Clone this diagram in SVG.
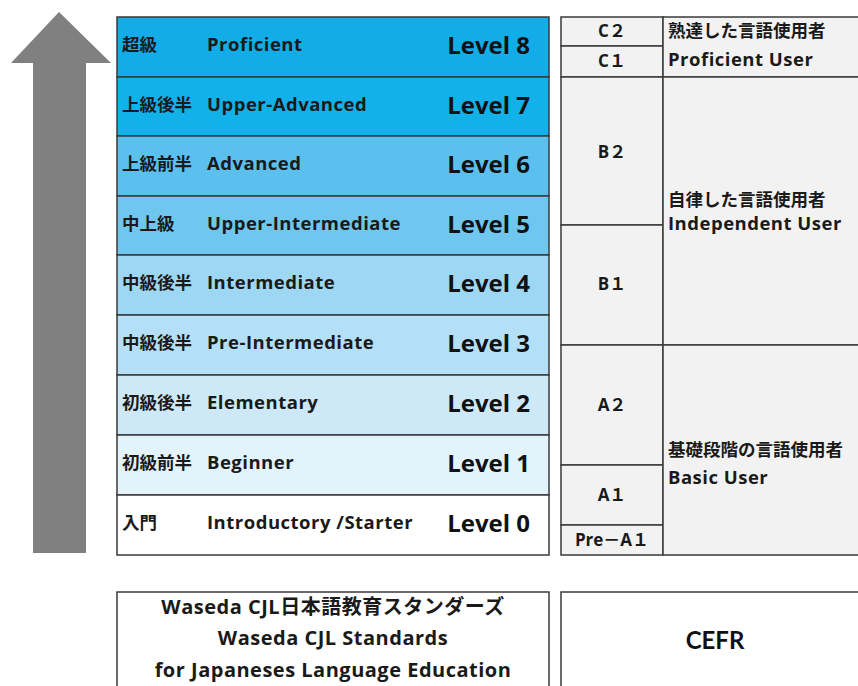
<svg xmlns="http://www.w3.org/2000/svg" width="858" height="686" viewBox="0 0 858 686">
<style>
.cell{stroke:#3a3a3a;stroke-width:1.5}
.ja{font-family:"Noto Sans CJK JP",sans-serif;font-weight:700;font-size:17.5px;fill:#1a1a1a}
.en{font-family:"Open Sans","Noto Sans CJK JP",sans-serif;font-weight:700;font-size:18.5px;letter-spacing:0.5px;fill:#1a1a1a}
.lv{font-family:"Open Sans",sans-serif;font-weight:700;font-size:24px;fill:#111;text-anchor:end}
.cf{font-family:"Open Sans","Noto Sans CJK JP",sans-serif;font-weight:700;font-size:17px;fill:#1a1a1a;text-anchor:middle}
.rc{fill:#f2f2f2;stroke:#3a3a3a;stroke-width:1.5}
.big{font-family:"Open Sans","Noto Sans CJK JP",sans-serif;font-weight:700;font-size:20px;letter-spacing:0.5px;fill:#1a1a1a;text-anchor:middle}
</style>
<rect width="858" height="686" fill="#ffffff"/>
<g id="arrow">
<polygon points="59,12 111,63 86,63 86,553 33,553 33,63 11,63" fill="#808080"/>
</g>
<g id="level8"><rect class="cell" x="117" y="17" width="432" height="60" fill="#12ade8"/><text class="ja" x="122" y="51">超級</text><text class="en" x="207" y="51">Proficient</text><text class="lv" x="530" y="54">Level 8</text></g>
<g id="level7"><rect class="cell" x="117" y="77" width="432" height="59" fill="#13b1ea"/><text class="ja" x="122" y="111">上級後半</text><text class="en" x="207" y="111">Upper-Advanced</text><text class="lv" x="530" y="114">Level 7</text></g>
<g id="level6"><rect class="cell" x="117" y="136" width="432" height="60" fill="#5bc0ee"/><text class="ja" x="122" y="170">上級前半</text><text class="en" x="207" y="170">Advanced</text><text class="lv" x="530" y="173">Level 6</text></g>
<g id="level5"><rect class="cell" x="117" y="196" width="432" height="59" fill="#6fc7f0"/><text class="ja" x="122" y="230">中上級</text><text class="en" x="207" y="230">Upper-Intermediate</text><text class="lv" x="530" y="233">Level 5</text></g>
<g id="level4"><rect class="cell" x="117" y="255" width="432" height="60" fill="#9dd7f4"/><text class="ja" x="122" y="289">中級後半</text><text class="en" x="207" y="289">Intermediate</text><text class="lv" x="530" y="292">Level 4</text></g>
<g id="level3"><rect class="cell" x="117" y="315" width="432" height="60" fill="#b3e0f6"/><text class="ja" x="122" y="349">中級後半</text><text class="en" x="207" y="349">Pre-Intermediate</text><text class="lv" x="530" y="352">Level 3</text></g>
<g id="level2"><rect class="cell" x="117" y="375" width="432" height="60" fill="#cde9f8"/><text class="ja" x="122" y="409">初級後半</text><text class="en" x="207" y="409">Elementary</text><text class="lv" x="530" y="412">Level 2</text></g>
<g id="level1"><rect class="cell" x="117" y="435" width="432" height="60" fill="#e3f3fc"/><text class="ja" x="122" y="469">初級前半</text><text class="en" x="207" y="469">Beginner</text><text class="lv" x="530" y="472">Level 1</text></g>
<g id="level0"><rect class="cell" x="117" y="495" width="432" height="60" fill="#ffffff"/><text class="ja" x="122" y="529">入門</text><text class="en" x="207" y="529">Introductory /Starter</text><text class="lv" x="530" y="532">Level 0</text></g>
<g id="cefr-c2"><rect class="rc" x="561" y="17" width="102" height="29"/><text class="cf" x="612" y="37">C２</text></g>
<g id="cefr-c1"><rect class="rc" x="561" y="46" width="102" height="31"/><text class="cf" x="612" y="67">C１</text></g>
<g id="cefr-b2"><rect class="rc" x="561" y="77" width="102" height="148"/><text class="cf" x="612" y="158">B２</text></g>
<g id="cefr-b1"><rect class="rc" x="561" y="225" width="102" height="120"/><text class="cf" x="612" y="290">B１</text></g>
<g id="cefr-a2"><rect class="rc" x="561" y="345" width="102" height="120"/><text class="cf" x="612" y="411">A２</text></g>
<g id="cefr-a1"><rect class="rc" x="561" y="465" width="102" height="60"/><text class="cf" x="612" y="501">A１</text></g>
<g id="cefr-prea1"><rect class="rc" x="561" y="525" width="102" height="30"/><text class="cf" x="612" y="546">Pre－A１</text></g>
<g id="user-proficient"><rect class="rc" x="663" y="17" width="200" height="60"/><text class="ja" x="668" y="37">熟達した言語使用者</text><text class="en" x="668" y="66">Proficient User</text></g>
<g id="user-independent"><rect class="rc" x="663" y="77" width="200" height="268"/><text class="ja" x="668" y="206">自律した言語使用者</text><text class="en" x="668" y="230">Independent User</text></g>
<g id="user-basic"><rect class="rc" x="663" y="345" width="200" height="210"/><text class="ja" x="668" y="456">基礎段階の言語使用者</text><text class="en" x="668" y="484">Basic User</text></g>
<g id="label-cjl"><rect x="117" y="592" width="432" height="110" fill="#ffffff" stroke="#3a3a3a" stroke-width="1.5"/><text class="big" x="333" y="614">Waseda CJL日本語教育スタンダーズ</text><text class="big" x="333" y="645">Waseda CJL Standards</text><text class="big" x="333" y="677">for Japaneses Language Education</text></g>
<g id="label-cefr"><rect x="561" y="592" width="310" height="110" fill="#ffffff" stroke="#3a3a3a" stroke-width="1.5"/><text x="715" y="649" font-family="Lato,'Open Sans',sans-serif" font-weight="700" font-size="24" fill="#111" text-anchor="middle">CEFR</text></g>
<g id="connectors"></g>
</svg>
